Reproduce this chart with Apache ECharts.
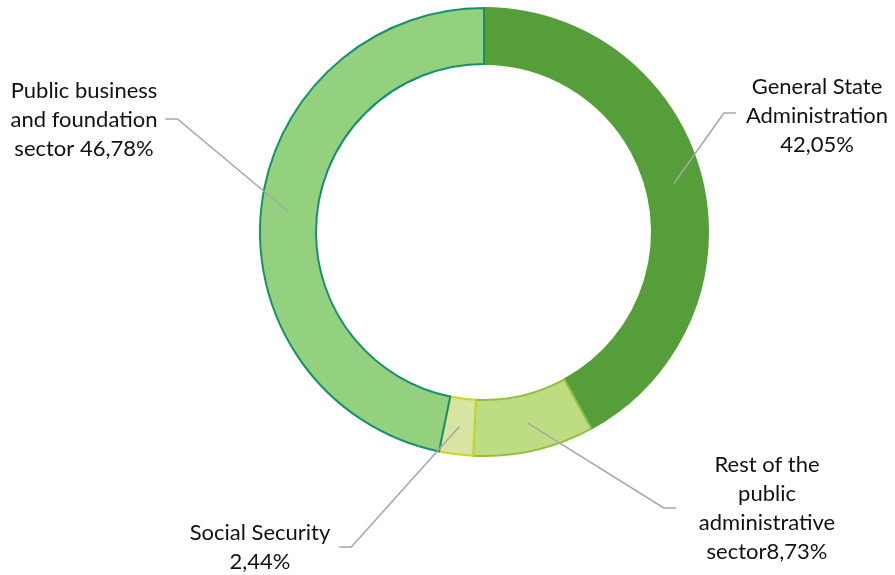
<!DOCTYPE html>
<html>
<head>
<meta charset="utf-8">
<script src="https://cdn.jsdelivr.net/npm/echarts@6/dist/echarts.min.js"></script>
<style>
  html, body { margin: 0; padding: 0; background: #ffffff; }
  #chart { width: 895px; height: 575px; }
</style>
</head>
<body>
<div id="chart"></div>
<script>
// Shares of the public sector, in percent
const categories = [
  'General State Administration',
  'Rest of the public administrative sector',
  'Social Security',
  'Public business and foundation sector'
];
const shares = [42.05, 8.73, 2.44, 46.78];
// Label text per slice; {v} is replaced by the share
const labelTemplates = [
  'General State\nAdministration\n{v}%',
  'Rest of the\npublic\nadministrative\nsector{v}%',
  'Social Security\n{v}%',
  'Public business\nand foundation\nsector {v}%'
];
const fillColors = ['#569e3a', '#bedc81', '#d8e4a1', '#93d17f'];
const borderColors = ['#569e3a', '#93c043', '#c6d52f', '#17906f'];

// Ring geometry and label placement
const CENTER = [484, 232];
const RADIUS = [168, 224];
// label centre, side the leader line enters from, gap to the text, leader height offset
const labelSpots = [
  { x: 817, y: 116, side: 'left',  gap: 10, dy: -3 },
  { x: 767, y: 508, side: 'left',  gap: 23, dy: 0 },
  { x: 260, y: 547, side: 'right', gap: 9,  dy: 0 },
  { x: 84,  y: 120, side: 'right', gap: 8,  dy: -1 }
];
const LEADER_TAIL = 12;

const total = shares.reduce((a, b) => a + b, 0);
function midRingPoint(i) {
  let before = 0;
  for (let k = 0; k < i; k++) before += shares[k];
  const frac = (before + shares[i] / 2) / total;
  const ang = (90 - 360 * frac) * Math.PI / 180;
  const r = (RADIUS[0] + RADIUS[1]) / 2;
  return [CENTER[0] + r * Math.cos(ang), CENTER[1] - r * Math.sin(ang)];
}
function fmt(v) { return v.toFixed(2).replace('.', ','); }

const ringBase = {
  type: 'pie',
  center: CENTER,
  radius: RADIUS,
  startAngle: 90,
  clockwise: true,
  avoidLabelOverlap: false,
  emphasis: { disabled: true }
};

const chart = echarts.init(document.getElementById('chart'), null, { renderer: 'canvas' });
chart.setOption({
  backgroundColor: '#ffffff',
  animation: false,
  series: [
    // the coloured ring
    Object.assign({}, ringBase, {
      z: 2,
      data: categories.map((name, i) => ({
        name: name,
        value: shares[i],
        itemStyle: { color: fillColors[i], borderColor: borderColors[i], borderWidth: 2 }
      })),
      label: { show: false },
      labelLine: { show: false }
    }),
    // labels and leader lines, layered above the ring
    Object.assign({}, ringBase, {
      z: 5,
      silent: true,
      data: categories.map((name, i) => ({
        name: name,
        value: shares[i],
        itemStyle: { color: 'rgba(0,0,0,0)', borderWidth: 0 }
      })),
      label: {
        show: true,
        position: 'outer',
        formatter: p => labelTemplates[p.dataIndex].replace('{v}', fmt(p.value)),
        fontFamily: 'Lato',
        fontSize: 22,
        lineHeight: 29,
        color: '#111111',
        align: 'center',
        padding: 0
      },
      labelLine: {
        show: true,
        lineStyle: { color: '#a6a6a6', width: 1.5 }
      },
      labelLayout: function (params) {
        const spot = labelSpots[params.dataIndex];
        const reach = params.labelRect.width / 2 + spot.gap;
        const endX = spot.side === 'left' ? spot.x - reach : spot.x + reach;
        const elbowX = spot.side === 'left' ? endX - LEADER_TAIL : endX + LEADER_TAIL;
        const ly = spot.y + spot.dy;
        return {
          x: spot.x,
          y: spot.y,
          align: 'center',
          verticalAlign: 'middle',
          labelLinePoints: [midRingPoint(params.dataIndex), [elbowX, ly], [endX, ly]]
        };
      }
    })
  ]
});
</script>
</body>
</html>
